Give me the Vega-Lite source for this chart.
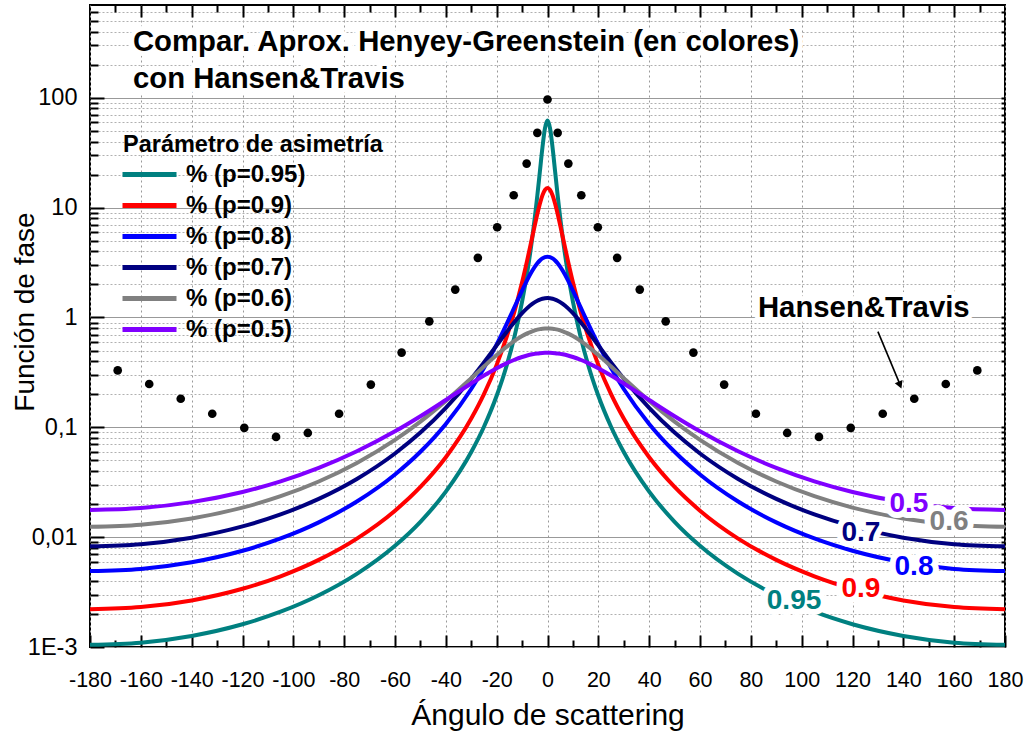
{
  "$schema": "https://vega.github.io/schema/vega-lite/v6.json",
  "width": 915,
  "height": 642,
  "autosize": {"type": "none"},
  "padding": {"left": 90, "top": 5, "right": 26, "bottom": 88},
  "background": "white",
  "config": {
    "view": {"stroke": "black", "strokeWidth": 2},
    "font": "Liberation Sans",
    "axis": {
      "tickColor": "black", "tickWidth": 2, "domain": false,
      "labelColor": "black", "labelFont": "Liberation Sans", "labelFontSize": 21,
      "titleFont": "Liberation Sans", "titleFontWeight": "normal", "titleColor": "black",
      "labelFlush": false, "labelOverlap": false
    }
  },
  "datasets": {
    "hg": [
      {"a": -180, "g95": 0.0010464, "g90": 0.0022044, "g80": 0.0049122, "g70": 0.0082607, "g60": 0.012434, "g50": 0.017684},
      {"a": -160, "g95": 0.0010955, "g90": 0.0023077, "g80": 0.0051401, "g70": 0.0086364, "g60": 0.012981, "g50": 0.018419},
      {"a": -140, "g95": 0.0012609, "g90": 0.0026552, "g80": 0.0059055, "g70": 0.0098941, "g60": 0.014801, "g50": 0.02085},
      {"a": -120, "g95": 0.0016105, "g90": 0.0033892, "g80": 0.0075164, "g70": 0.012523, "g60": 0.018561, "g50": 0.025781},
      {"a": -105, "g95": 0.0020942, "g90": 0.0044038, "g80": 0.009731, "g70": 0.016098, "g60": 0.023587, "g50": 0.032203},
      {"a": -90, "g95": 0.0029567, "g90": 0.0062092, "g80": 0.01364, "g70": 0.022314, "g60": 0.032112, "g50": 0.042706},
      {"a": -75, "g95": 0.0046304, "g90": 0.0097027, "g80": 0.021107, "g70": 0.033892, "g60": 0.047375, "g50": 0.060481},
      {"a": -60, "g95": 0.0083463, "g90": 0.017418, "g80": 0.037211, "g70": 0.0578, "g60": 0.076869, "g50": 0.091888},
      {"a": -50, "g95": 0.0138, "g90": 0.028655, "g80": 0.059905, "g70": 0.089532, "g60": 0.11277, "g50": 0.12614},
      {"a": -40, "g95": 0.02596, "g90": 0.053414, "g80": 0.10742, "g70": 0.15042, "g60": 0.17406, "g50": 0.17727},
      {"a": -30, "g95": 0.059532, "g90": 0.12013, "g80": 0.22332, "g70": 0.27754, "g60": 0.28034, "g50": 0.25084},
      {"a": -25, "g95": 0.10116, "g90": 0.20025, "g80": 0.34617, "g70": 0.39019, "g60": 0.35818, "g50": 0.29621},
      {"a": -20, "g95": 0.19366, "g90": 0.37041, "g80": 0.56812, "g70": 0.5571, "g60": 0.45469, "g50": 0.34527},
      {"a": -16, "g95": 0.36957, "g90": 0.67164, "g80": 0.87966, "g70": 0.74091, "g60": 0.5428, "g50": 0.38467},
      {"a": -13, "g95": 0.6698, "g90": 1.1368, "g80": 1.2425, "g70": 0.9087, "g60": 0.6113, "g50": 0.4124},
      {"a": -10, "g95": 1.3968, "g90": 2.095, "g80": 1.7568, "g70": 1.0935, "g60": 0.6769, "g50": 0.437},
      {"a": -8, "g95": 2.551, "g90": 3.3125, "g80": 2.1869, "g70": 1.2167, "g60": 0.716, "g50": 0.4509},
      {"a": -6, "g95": 5.29, "g90": 5.402, "g80": 2.6603, "g70": 1.3296, "g60": 0.7492, "g50": 0.4622},
      {"a": -4, "g95": 12.892, "g90": 8.764, "g80": 3.1148, "g70": 1.4216, "g60": 0.7745, "g50": 0.4706},
      {"a": -3, "g95": 21.28, "g90": 10.862, "g80": 3.3055, "g70": 1.4563, "g60": 0.7837, "g50": 0.4736},
      {"a": -2, "g95": 35.08, "g90": 12.935, "g80": 3.454, "g70": 1.482, "g60": 0.7904, "g50": 0.4757},
      {"a": -1, "g95": 52.67, "g90": 14.519, "g80": 3.5485, "g70": 1.4978, "g60": 0.7944, "g50": 0.477},
      {"a": 0, "g95": 62.07, "g90": 15.12, "g80": 3.581, "g70": 1.5031, "g60": 0.7958, "g50": 0.4775},
      {"a": 1, "g95": 52.67, "g90": 14.519, "g80": 3.5485, "g70": 1.4978, "g60": 0.7944, "g50": 0.477},
      {"a": 2, "g95": 35.08, "g90": 12.935, "g80": 3.454, "g70": 1.482, "g60": 0.7904, "g50": 0.4757},
      {"a": 3, "g95": 21.28, "g90": 10.862, "g80": 3.3055, "g70": 1.4563, "g60": 0.7837, "g50": 0.4736},
      {"a": 4, "g95": 12.892, "g90": 8.764, "g80": 3.1148, "g70": 1.4216, "g60": 0.7745, "g50": 0.4706},
      {"a": 6, "g95": 5.29, "g90": 5.402, "g80": 2.6603, "g70": 1.3296, "g60": 0.7492, "g50": 0.4622},
      {"a": 8, "g95": 2.551, "g90": 3.3125, "g80": 2.1869, "g70": 1.2167, "g60": 0.716, "g50": 0.4509},
      {"a": 10, "g95": 1.3968, "g90": 2.095, "g80": 1.7568, "g70": 1.0935, "g60": 0.6769, "g50": 0.437},
      {"a": 13, "g95": 0.6698, "g90": 1.1368, "g80": 1.2425, "g70": 0.9087, "g60": 0.6113, "g50": 0.4124},
      {"a": 16, "g95": 0.36957, "g90": 0.67164, "g80": 0.87966, "g70": 0.74091, "g60": 0.5428, "g50": 0.38467},
      {"a": 20, "g95": 0.19366, "g90": 0.37041, "g80": 0.56812, "g70": 0.5571, "g60": 0.45469, "g50": 0.34527},
      {"a": 25, "g95": 0.10116, "g90": 0.20025, "g80": 0.34617, "g70": 0.39019, "g60": 0.35818, "g50": 0.29621},
      {"a": 30, "g95": 0.059532, "g90": 0.12013, "g80": 0.22332, "g70": 0.27754, "g60": 0.28034, "g50": 0.25084},
      {"a": 40, "g95": 0.02596, "g90": 0.053414, "g80": 0.10742, "g70": 0.15042, "g60": 0.17406, "g50": 0.17727},
      {"a": 50, "g95": 0.0138, "g90": 0.028655, "g80": 0.059905, "g70": 0.089532, "g60": 0.11277, "g50": 0.12614},
      {"a": 60, "g95": 0.0083463, "g90": 0.017418, "g80": 0.037211, "g70": 0.0578, "g60": 0.076869, "g50": 0.091888},
      {"a": 75, "g95": 0.0046304, "g90": 0.0097027, "g80": 0.021107, "g70": 0.033892, "g60": 0.047375, "g50": 0.060481},
      {"a": 90, "g95": 0.0029567, "g90": 0.0062092, "g80": 0.01364, "g70": 0.022314, "g60": 0.032112, "g50": 0.042706},
      {"a": 105, "g95": 0.0020942, "g90": 0.0044038, "g80": 0.009731, "g70": 0.016098, "g60": 0.023587, "g50": 0.032203},
      {"a": 120, "g95": 0.0016105, "g90": 0.0033892, "g80": 0.0075164, "g70": 0.012523, "g60": 0.018561, "g50": 0.025781},
      {"a": 140, "g95": 0.0012609, "g90": 0.0026552, "g80": 0.0059055, "g70": 0.0098941, "g60": 0.014801, "g50": 0.02085},
      {"a": 160, "g95": 0.0010955, "g90": 0.0023077, "g80": 0.0051401, "g70": 0.0086364, "g60": 0.012981, "g50": 0.018419},
      {"a": 180, "g95": 0.0010464, "g90": 0.0022044, "g80": 0.0049122, "g70": 0.0082607, "g60": 0.012434, "g50": 0.017684}
    ],
    "ht": [
      {"a": -169.1, "v": 0.33}, {"a": -156.7, "v": 0.248}, {"a": -144.3, "v": 0.182},
      {"a": -131.9, "v": 0.133}, {"a": -119.3, "v": 0.0989}, {"a": -106.8, "v": 0.0818},
      {"a": -94.3, "v": 0.0889}, {"a": -82.0, "v": 0.133}, {"a": -69.5, "v": 0.245},
      {"a": -57.4, "v": 0.479}, {"a": -46.5, "v": 0.923}, {"a": -36.3, "v": 1.795},
      {"a": -27.4, "v": 3.49}, {"a": -19.8, "v": 6.63}, {"a": -13.3, "v": 12.97},
      {"a": -8.2, "v": 25.2}, {"a": -4.0, "v": 48.0}, {"a": 0, "v": 96.5},
      {"a": 4.0, "v": 48.0}, {"a": 8.2, "v": 25.2}, {"a": 13.3, "v": 12.97},
      {"a": 19.8, "v": 6.63}, {"a": 27.4, "v": 3.49}, {"a": 36.3, "v": 1.795},
      {"a": 46.5, "v": 0.923}, {"a": 57.4, "v": 0.479}, {"a": 69.5, "v": 0.245},
      {"a": 82.0, "v": 0.133}, {"a": 94.3, "v": 0.0889}, {"a": 106.8, "v": 0.0818},
      {"a": 119.3, "v": 0.0989}, {"a": 131.9, "v": 0.133}, {"a": 144.3, "v": 0.182},
      {"a": 156.7, "v": 0.248}, {"a": 169.1, "v": 0.33}
    ],
    "lab": [
      {"a": 97.0, "v": 0.002641, "t": "0.95", "serie": "g95"},
      {"a": 123.3, "v": 0.003396, "t": "0.9", "serie": "g90"},
      {"a": 144.2, "v": 0.005387, "t": "0.8", "serie": "g80"},
      {"a": 123.3, "v": 0.01099, "t": "0.7", "serie": "g70"},
      {"a": 158.0, "v": 0.01384, "t": "0.6", "serie": "g60"},
      {"a": 142.2, "v": 0.02018, "t": "0.5", "serie": "g50"}
    ],
    "notes": [
      {"a": -163.1, "v": 265.7, "t": "Compar. Aprox. Henyey-Greenstein (en colores)"},
      {"a": -163.1, "v": 123.4, "t": "con Hansen&Travis"},
      {"a": 82.8, "v": 1.02, "t": "Hansen&Travis"}
    ],
    "arrow": [{"a": 130.0, "v": 0.7437, "a2": 138.3, "v2": 0.2579}],
    "head": [{"a": 138.7, "v": 0.2427}]
  },
  "resolve": {"axis": {"x": "independent", "y": "independent"}},
  "layer": [
    {
      "data": {"name": "hg"},
      "transform": [{"fold": ["g95", "g90", "g80", "g70", "g60", "g50"], "as": ["serie", "v"]}],
      "mark": {"type": "line", "strokeWidth": 4, "interpolate": "monotone", "clip": true},
      "encoding": {
        "x": {
          "field": "a", "type": "quantitative",
          "scale": {"domain": [-180, 180], "nice": false, "zero": false},
          "axis": {
            "orient": "bottom",
            "values": [-180, -160, -140, -120, -100, -80, -60, -40, -20, 0, 20, 40, 60, 80, 100, 120, 140, 160, 180],
            "labelExpr": "'' + datum.value",
            "labelFontSize": 21.5,
            "tickSize": -12, "labelPadding": 34,
            "grid": true, "gridColor": "#999999", "gridDash": [2, 3], "gridWidth": 1,
            "title": "Ángulo de scattering", "titleFontSize": 30,
            "titleX": 457.5, "titleY": 77, "titleAlign": "center", "titleBaseline": "alphabetic"
          }
        },
        "y": {
          "field": "v", "type": "quantitative",
          "scale": {"type": "log", "domain": [0.001, 700], "nice": false},
          "axis": {
            "orient": "left",
            "values": [0.001, 0.01, 0.1, 1, 10, 100],
            "labelExpr": "datum.value < 0.005 ? '1E-3' : datum.value < 0.05 ? '0,01' : datum.value < 0.5 ? '0,1' : format(datum.value, 'd')",
            "labelFontSize": 23.5,
            "tickSize": -14, "labelPadding": 27,
            "grid": true, "gridColor": "#999999", "gridWidth": 1,
            "title": "Función de fase", "titleFontSize": 28, "titleAngle": -90,
            "titleX": -57, "titleY": 306.5, "titleAlign": "center", "titleBaseline": "alphabetic"
          }
        },
        "color": {
          "field": "serie", "type": "nominal",
          "scale": {"domain": ["g95", "g90", "g80", "g70", "g60", "g50"], "range": ["#008080", "#FF0000", "#0000FF", "#000080", "#808080", "#8000FF"]},
          "legend": {
            "orient": "none", "legendX": 33, "legendY": 128, "padding": 0,
            "title": "Parámetro de asimetría", "titleFont": "Liberation Sans", "titleFontSize": 23.5,
            "titleFontWeight": "bold", "titleColor": "black", "titlePadding": 0.5, "titleLimit": 600,
            "labelFont": "Liberation Sans", "labelFontSize": 24, "labelFontWeight": "bold", "labelColor": "black",
            "labelOffset": 19, "labelLimit": 400, "symbolOffset": 9,
            "symbolType": "M-1.8,0H1.8", "symbolSize": 900, "symbolStrokeWidth": 5, "rowPadding": 1,
            "labelExpr": "datum.value == 'g95' ? '% (p=0.95)' : datum.value == 'g90' ? '% (p=0.9)' : datum.value == 'g80' ? '% (p=0.8)' : datum.value == 'g70' ? '% (p=0.7)' : datum.value == 'g60' ? '% (p=0.6)' : '% (p=0.5)'"
          }
        }
      }
    },
    {
      "data": {"name": "ht"},
      "mark": {"type": "point", "filled": true, "shape": "circle", "size": 75, "color": "black", "opacity": 1},
      "encoding": {
        "x": {
          "field": "a", "type": "quantitative",
          "axis": {"orient": "bottom", "values": [-170, -150, -130, -110, -90, -70, -50, -30, -10, 10, 30, 50, 70, 90, 110, 130, 150, 170],
                   "labels": false, "tickSize": -7, "grid": false, "title": null}
        },
        "y": {
          "field": "v", "type": "quantitative",
          "axis": {"orient": "left",
                   "values": [0.002, 0.003, 0.004, 0.005, 0.006, 0.007, 0.008, 0.009, 0.02, 0.03, 0.04, 0.05, 0.06, 0.07, 0.08, 0.09, 0.2, 0.3, 0.4, 0.5, 0.6, 0.7, 0.8, 0.9, 2, 3, 4, 5, 6, 7, 8, 9, 20, 30, 40, 50, 60, 70, 80, 90, 200, 300, 400, 500, 600],
                   "labels": false, "tickSize": -8, "grid": true, "gridColor": "#b0b0b0", "gridDash": [2, 2], "gridWidth": 1, "title": null}
        }
      }
    },
    {
      "data": {"name": "lab"},
      "mark": {"type": "text", "font": "Liberation Sans", "fontWeight": "bold", "fontSize": 28, "stroke": "white", "strokeWidth": 12, "strokeJoin": "round", "fill": "white", "baseline": "middle", "align": "center"},
      "encoding": {
        "x": {"field": "a", "type": "quantitative",
              "axis": {"orient": "top", "values": [-160, -140, -120, -100, -80, -60, -40, -20, 0, 20, 40, 60, 80, 100, 120, 140, 160],
                       "labels": false, "tickSize": -12, "grid": false, "title": null}},
        "y": {"field": "v", "type": "quantitative",
              "axis": {"orient": "right",
                       "values": [0.002, 0.003, 0.004, 0.005, 0.006, 0.007, 0.008, 0.009, 0.01, 0.02, 0.03, 0.04, 0.05, 0.06, 0.07, 0.08, 0.09, 0.1, 0.2, 0.3, 0.4, 0.5, 0.6, 0.7, 0.8, 0.9, 1, 2, 3, 4, 5, 6, 7, 8, 9, 10, 20, 30, 40, 50, 60, 70, 80, 90, 100, 200, 300, 400, 500, 600],
                       "labels": false, "tickSize": -4, "grid": false, "title": null}},
        "text": {"field": "t"}
      }
    },
    {
      "data": {"name": "lab"},
      "mark": {"type": "text", "font": "Liberation Sans", "fontWeight": "bold", "fontSize": 28, "baseline": "middle", "align": "center"},
      "encoding": {
        "x": {"field": "a", "type": "quantitative",
              "axis": {"orient": "top", "values": [-170, -150, -130, -110, -90, -70, -50, -30, -10, 10, 30, 50, 70, 90, 110, 130, 150, 170],
                       "labels": false, "tickSize": -7, "grid": false, "title": null}},
        "y": {"field": "v", "type": "quantitative", "axis": null},
        "text": {"field": "t"},
        "color": {"field": "serie", "type": "nominal", "legend": null}
      }
    },
    {
      "data": {"name": "notes"},
      "mark": {"type": "text", "font": "Liberation Sans", "fontWeight": "bold", "fontSize": 29.3, "stroke": "white", "strokeWidth": 10, "strokeJoin": "round", "fill": "white", "baseline": "alphabetic", "align": "left"},
      "encoding": {
        "x": {"field": "a", "type": "quantitative", "axis": null},
        "y": {"field": "v", "type": "quantitative", "axis": null},
        "text": {"field": "t"}
      }
    },
    {
      "data": {"name": "notes"},
      "mark": {"type": "text", "font": "Liberation Sans", "fontWeight": "bold", "fontSize": 29.3, "fill": "black", "baseline": "alphabetic", "align": "left"},
      "encoding": {
        "x": {"field": "a", "type": "quantitative", "axis": null},
        "y": {"field": "v", "type": "quantitative", "axis": null},
        "text": {"field": "t"}
      }
    },
    {
      "data": {"name": "arrow"},
      "mark": {"type": "rule", "color": "black", "strokeWidth": 1.6},
      "encoding": {
        "x": {"field": "a", "type": "quantitative", "axis": null},
        "y": {"field": "v", "type": "quantitative", "axis": null},
        "x2": {"field": "a2"},
        "y2": {"field": "v2"}
      }
    },
    {
      "data": {"name": "head"},
      "mark": {"type": "point", "shape": "triangle-down", "filled": true, "color": "black", "opacity": 1, "size": 70, "angle": 337.5},
      "encoding": {
        "x": {"field": "a", "type": "quantitative", "axis": null},
        "y": {"field": "v", "type": "quantitative", "axis": null}
      }
    }
  ]
}
